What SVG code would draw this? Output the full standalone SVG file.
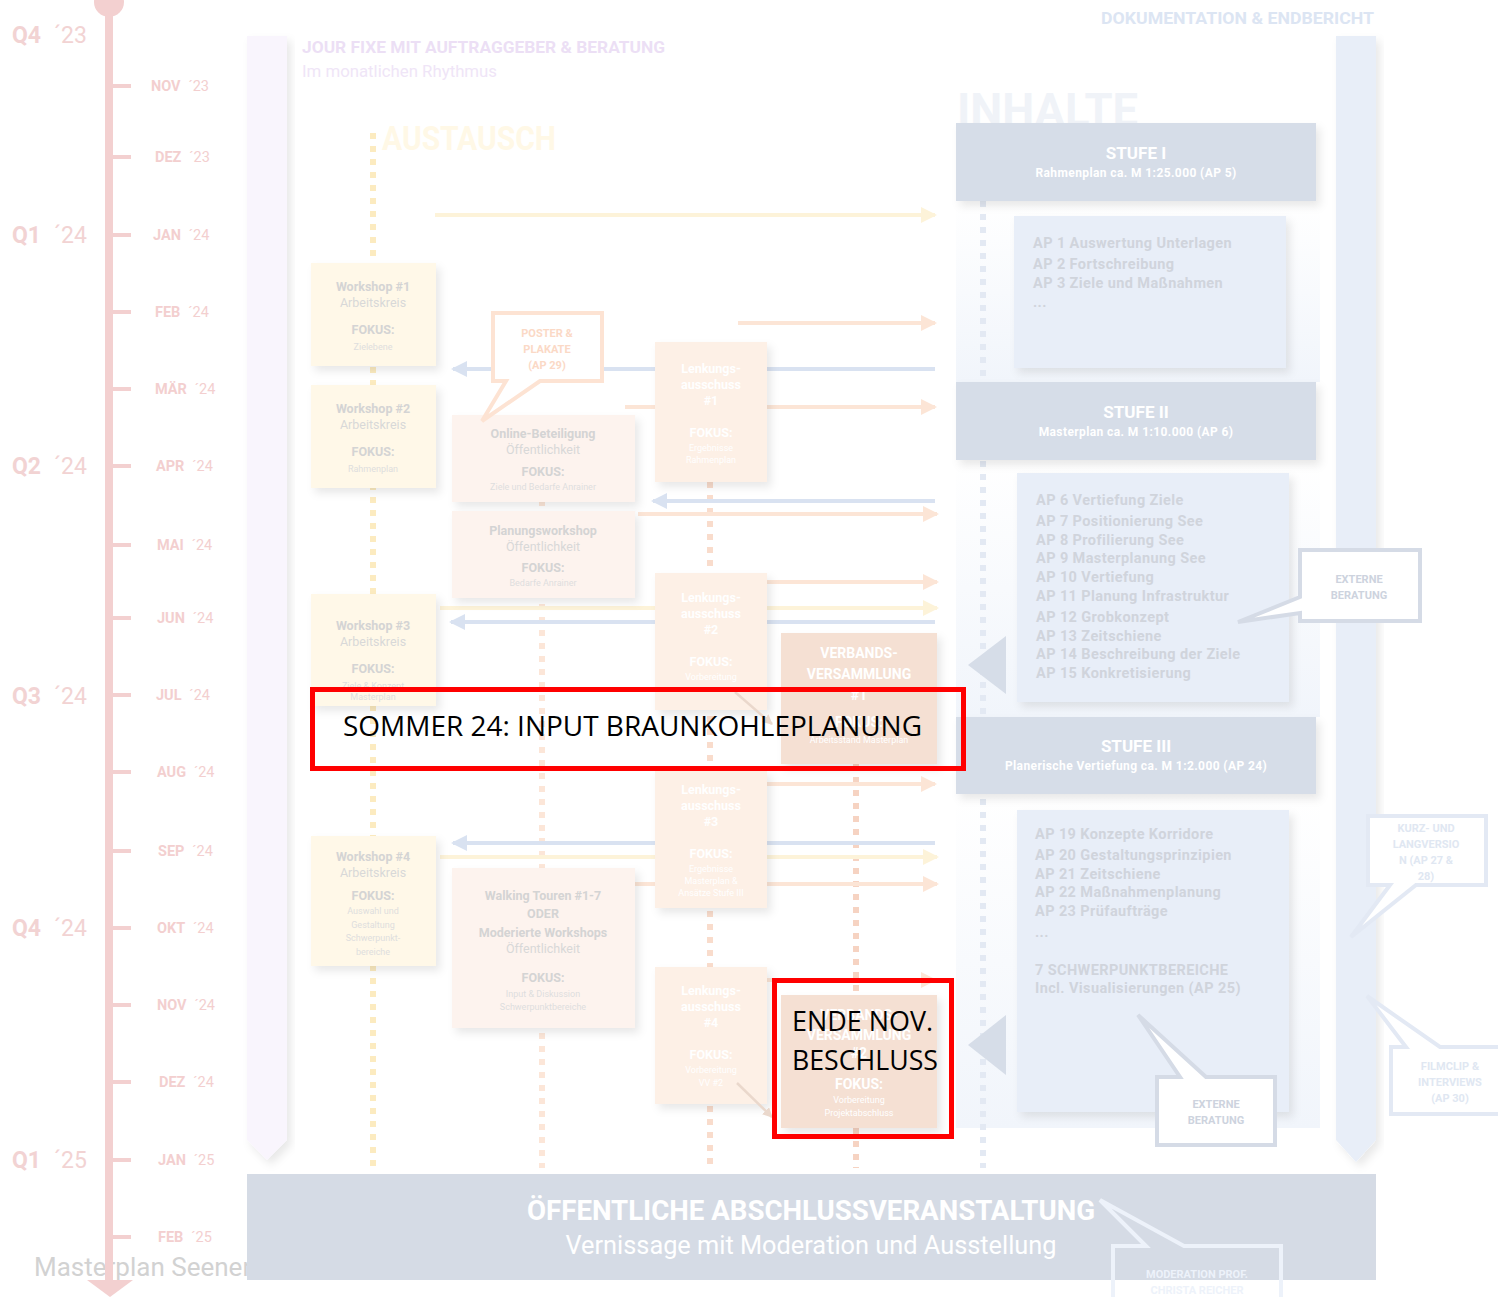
<svg xmlns="http://www.w3.org/2000/svg" width="1498" height="1297" viewBox="0 0 1498 1297">
<defs>
<style>
text{font-family:Roboto,"Liberation Sans",sans-serif}
.mon{font-size:14.5px;fill:#f3cfcf;word-spacing:4px}
.mon .b{font-weight:bold}
.q{font-size:23px;fill:#f2d3d3;word-spacing:7px}
.q .b{font-weight:bold}
.tick{fill:#f3d0d0}
.ws{fill:#fff8e8}
.pe{fill:#fdf3ee}
.lk{fill:#fdf0e6}
.vv{fill:#f5e0d3}
.st{fill:#d6dde8}
.ap{fill:#e8eef8}
.t1{font-size:12.5px;font-weight:bold;fill:#d4d4d4;text-anchor:middle}
.t2{font-size:12.5px;fill:#d8d8d8;text-anchor:middle}
.t3{font-size:9px;fill:#dedede;text-anchor:middle}
.w1{font-size:12.5px;font-weight:bold;fill:#ffffff;text-anchor:middle}
.w3{font-size:9px;fill:#ffffff;text-anchor:middle}
.v1{font-size:14px;font-weight:bold;fill:#ffffff;text-anchor:middle}
.apt{font-size:14.5px;font-weight:bold;fill:#d0d4dc;letter-spacing:0.4px}
.stt{font-size:17px;font-weight:bold;fill:#ffffff;text-anchor:middle}
.sts{font-size:12px;font-weight:bold;fill:#ffffff;text-anchor:middle;letter-spacing:0.4px}
.cb{font-size:11px;font-weight:bold;text-anchor:middle}
.dotY{stroke:#fcebc0;stroke-width:6;stroke-dasharray:6 7;fill:none}
.dotO{stroke:#fce6d8;stroke-width:6;stroke-dasharray:6 7;fill:none}
.dotL{stroke:#f9dccc;stroke-width:6;stroke-dasharray:6 7;fill:none}
.dotV{stroke:#f6d3c2;stroke-width:6;stroke-dasharray:6 7;fill:none}
.dotB{stroke:#e3e9f3;stroke-width:6;stroke-dasharray:6 7;fill:none}
.aY{stroke:#fdf3d9;stroke-width:4;fill:none}
.aO{stroke:#fce5d6;stroke-width:4;fill:none}
.aB{stroke:#d9e2f1;stroke-width:4;fill:none}
.red{fill:none;stroke:#ff0000;stroke-width:5}
.blk{font-family:"Open Sans","Liberation Sans",sans-serif;fill:#000000;font-size:28px}
</style>
<filter id="sh" x="-20%" y="-20%" width="140%" height="140%">
<feDropShadow dx="4" dy="5" stdDeviation="4" flood-color="#000" flood-opacity="0.09"/>
</filter>
<marker id="mY" markerUnits="userSpaceOnUse" markerWidth="18" markerHeight="18" refX="14" refY="8" orient="auto"><path d="M0 0 L16 8 L0 16 Z" fill="#fdf3d9"/></marker>
<marker id="mO" markerUnits="userSpaceOnUse" markerWidth="18" markerHeight="18" refX="14" refY="8" orient="auto"><path d="M0 0 L16 8 L0 16 Z" fill="#fce5d6"/></marker>
<marker id="mB" markerUnits="userSpaceOnUse" markerWidth="18" markerHeight="18" refX="14" refY="8" orient="auto"><path d="M0 0 L16 8 L0 16 Z" fill="#d9e2f1"/></marker>
<marker id="mG" markerUnits="userSpaceOnUse" markerWidth="12" markerHeight="12" refX="9" refY="5" orient="auto"><path d="M0 0 L10 5 L0 10 Z" fill="#ead8cc"/></marker>
<linearGradient id="gb" x1="0" y1="0" x2="0" y2="1"><stop offset="0" stop-color="#ffffff"/><stop offset="1" stop-color="#f1f5fb"/></linearGradient>
</defs>

<!-- background text -->
<text x="34" y="1276" font-size="26" fill="#d2d2d2">Masterplan Seenen</text>

<!-- timeline -->
<g id="timeline">
<rect x="105" y="0" width="8" height="1282" fill="#f3d0d0"/>
<circle cx="109" cy="2" r="15" fill="#f3d0d0"/>
<path d="M87 1280 L133 1280 L110 1297 Z" fill="#f3d0d0"/>
<g class="tick">
<rect x="113" y="84" width="18" height="4"/><rect x="113" y="155" width="18" height="4"/>
<rect x="113" y="233" width="18" height="4"/><rect x="113" y="310" width="18" height="4"/>
<rect x="113" y="387" width="18" height="4"/><rect x="113" y="464" width="18" height="4"/>
<rect x="113" y="543" width="18" height="4"/><rect x="113" y="616" width="18" height="4"/>
<rect x="113" y="693" width="18" height="4"/><rect x="113" y="770" width="18" height="4"/>
<rect x="113" y="849" width="18" height="4"/><rect x="113" y="926" width="18" height="4"/>
<rect x="113" y="1003" width="18" height="4"/><rect x="113" y="1080" width="18" height="4"/>
<rect x="113" y="1158" width="18" height="4"/><rect x="113" y="1235" width="18" height="4"/>
</g>
<text class="mon" x="151" y="91"><tspan class="b">NOV</tspan> ´23</text>
<text class="mon" x="155" y="162"><tspan class="b">DEZ</tspan> ´23</text>
<text class="mon" x="153" y="240"><tspan class="b">JAN</tspan> ´24</text>
<text class="mon" x="155" y="317"><tspan class="b">FEB</tspan> ´24</text>
<text class="mon" x="155" y="394"><tspan class="b">MÄR</tspan> ´24</text>
<text class="mon" x="156" y="471"><tspan class="b">APR</tspan> ´24</text>
<text class="mon" x="157" y="550"><tspan class="b">MAI</tspan> ´24</text>
<text class="mon" x="157" y="623"><tspan class="b">JUN</tspan> ´24</text>
<text class="mon" x="156" y="700"><tspan class="b">JUL</tspan> ´24</text>
<text class="mon" x="157" y="777"><tspan class="b">AUG</tspan> ´24</text>
<text class="mon" x="158" y="856"><tspan class="b">SEP</tspan> ´24</text>
<text class="mon" x="157" y="933"><tspan class="b">OKT</tspan> ´24</text>
<text class="mon" x="157" y="1010"><tspan class="b">NOV</tspan> ´24</text>
<text class="mon" x="159" y="1087"><tspan class="b">DEZ</tspan> ´24</text>
<text class="mon" x="158" y="1165"><tspan class="b">JAN</tspan> ´25</text>
<text class="mon" x="158" y="1242"><tspan class="b">FEB</tspan> ´25</text>
<text class="q" x="12" y="43"><tspan class="b">Q4</tspan> ´23</text>
<text class="q" x="12" y="243"><tspan class="b">Q1</tspan> ´24</text>
<text class="q" x="12" y="474"><tspan class="b">Q2</tspan> ´24</text>
<text class="q" x="12" y="704"><tspan class="b">Q3</tspan> ´24</text>
<text class="q" x="12" y="936"><tspan class="b">Q4</tspan> ´24</text>
<text class="q" x="12" y="1168"><tspan class="b">Q1</tspan> ´25</text>
</g>

<!-- columns -->
<g id="jourfixe">
<path d="M247 36 H287 V1140 L267 1160 L247 1140 Z" fill="#f9f5fd" filter="url(#sh)"/>
<text x="302" y="53" font-size="16" font-weight="bold" fill="#ecdff5" textLength="363" lengthAdjust="spacingAndGlyphs">JOUR FIXE MIT AUFTRAGGEBER &amp; BERATUNG</text>
<text x="302" y="77" font-size="16" fill="#efe5f7" textLength="195" lengthAdjust="spacingAndGlyphs">Im monatlichen Rhythmus</text>
</g>
<g id="dokumentation">
<path d="M1336 36 H1376 V1140 L1356 1162 L1336 1140 Z" fill="#e8eef8" filter="url(#sh)"/>
<text x="1101" y="24" font-size="17" font-weight="bold" fill="#dce5f3" textLength="273" lengthAdjust="spacingAndGlyphs">DOKUMENTATION &amp; ENDBERICHT</text>
</g>

<text x="382" y="150" font-size="34" font-weight="bold" fill="#fff8e6" textLength="174" lengthAdjust="spacingAndGlyphs">AUSTAUSCH</text>
<text x="957" y="126" font-size="46" font-weight="bold" fill="#f0f3f8" textLength="181" lengthAdjust="spacingAndGlyphs">INHALTE</text>

<!-- inhalte background -->
<rect x="956" y="201" width="364" height="181" fill="url(#gb)"/>
<rect x="956" y="460" width="364" height="257" fill="url(#gb)"/>
<rect x="956" y="794" width="364" height="334" fill="url(#gb)"/>

<!-- connectors -->
<g id="connectors">
<line class="dotY" x1="373" y1="133" x2="373" y2="1168"/>
<line class="dotO" x1="542" y1="500" x2="542" y2="1168"/>
<line class="dotL" x1="710" y1="482" x2="710" y2="1168"/>
<line class="dotV" x1="856" y1="764" x2="856" y2="1168"/>
<line class="dotB" x1="983" y1="201" x2="983" y2="1168"/>
<line class="aY" x1="435" y1="215" x2="935" y2="215" marker-end="url(#mY)"/>
<line class="aO" x1="738" y1="323" x2="935" y2="323" marker-end="url(#mO)"/>
<line class="aB" x1="935" y1="369" x2="453" y2="369" marker-end="url(#mB)"/>
<line class="aO" x1="625" y1="407" x2="935" y2="407" marker-end="url(#mO)"/>
<line class="aB" x1="935" y1="501" x2="653" y2="501" marker-end="url(#mB)"/>
<line class="aO" x1="638" y1="514" x2="937" y2="514" marker-end="url(#mO)"/>
<line class="aO" x1="765" y1="582" x2="937" y2="582" marker-end="url(#mO)"/>
<line class="aY" x1="440" y1="608" x2="937" y2="608" marker-end="url(#mY)"/>
<line class="aB" x1="935" y1="622" x2="451" y2="622" marker-end="url(#mB)"/>
<line class="aO" x1="765" y1="784" x2="935" y2="784" marker-end="url(#mO)"/>
<line class="aB" x1="935" y1="843" x2="453" y2="843" marker-end="url(#mB)"/>
<line class="aY" x1="440" y1="857" x2="937" y2="857" marker-end="url(#mY)"/>
<line class="aO" x1="635" y1="884" x2="937" y2="884" marker-end="url(#mO)"/>
<line class="aO" x1="765" y1="980" x2="935" y2="980" marker-end="url(#mO)"/>
</g>

<!-- workshops -->
<g id="ws1"><rect class="ws" x="311" y="263" width="125" height="103" filter="url(#sh)"/>
<text class="t1" x="373" y="291">Workshop #1</text><text class="t2" x="373" y="307">Arbeitskreis</text>
<text class="t1" x="373" y="334">FOKUS:</text><text class="t3" x="373" y="350">Zielebene</text></g>
<g id="ws2"><rect class="ws" x="311" y="385" width="125" height="103" filter="url(#sh)"/>
<text class="t1" x="373" y="413">Workshop #2</text><text class="t2" x="373" y="429">Arbeitskreis</text>
<text class="t1" x="373" y="456">FOKUS:</text><text class="t3" x="373" y="472">Rahmenplan</text></g>
<g id="ws3"><rect class="ws" x="311" y="594" width="125" height="112" filter="url(#sh)"/>
<text class="t1" x="373" y="630">Workshop #3</text><text class="t2" x="373" y="646">Arbeitskreis</text>
<text class="t1" x="373" y="673">FOKUS:</text><text class="t3" x="373" y="689">Ziele &amp; Konzept</text><text class="t3" x="373" y="700">Masterplan</text></g>
<g id="ws4"><rect class="ws" x="311" y="836" width="125" height="130" filter="url(#sh)"/>
<text class="t1" x="373" y="861">Workshop #4</text><text class="t2" x="373" y="877">Arbeitskreis</text>
<text class="t1" x="373" y="900">FOKUS:</text><text class="t3" x="373" y="914">Auswahl und</text>
<text class="t3" x="373" y="928">Gestaltung</text><text class="t3" x="373" y="941">Schwerpunkt-</text><text class="t3" x="373" y="955">bereiche</text></g>

<!-- public -->
<g id="online"><rect class="pe" x="452" y="415" width="183" height="87" filter="url(#sh)"/>
<text class="t1" x="543" y="438">Online-Beteiligung</text><text class="t2" x="543" y="454">Öffentlichkeit</text>
<text class="t1" x="543" y="476">FOKUS:</text><text class="t3" x="543" y="490">Ziele und Bedarfe Anrainer</text></g>
<g id="planungsws"><rect class="pe" x="452" y="511" width="183" height="87" filter="url(#sh)"/>
<text class="t1" x="543" y="535">Planungsworkshop</text><text class="t2" x="543" y="551">Öffentlichkeit</text>
<text class="t1" x="543" y="572">FOKUS:</text><text class="t3" x="543" y="586">Bedarfe Anrainer</text></g>
<g id="walking"><rect class="pe" x="452" y="868" width="183" height="160" filter="url(#sh)"/>
<text class="t1" x="543" y="900">Walking Touren #1-7</text><text class="t1" x="543" y="918">ODER</text>
<text class="t1" x="543" y="937">Moderierte Workshops</text><text class="t2" x="543" y="953">Öffentlichkeit</text>
<text class="t1" x="543" y="982">FOKUS:</text><text class="t3" x="543" y="997">Input &amp; Diskussion</text><text class="t3" x="543" y="1010">Schwerpunktbereiche</text></g>

<g id="poster"><path d="M493 313 H602 V381 H540 L482 421 L506 381 H493 Z" fill="#ffffff" stroke="#fde3d3" stroke-width="4"/>
<text class="cb" x="547" y="337" fill="#fbd9c6">POSTER &amp;</text><text class="cb" x="547" y="353" fill="#fbd9c6">PLAKATE</text><text class="cb" x="547" y="369" fill="#fbd9c6">(AP 29)</text></g>

<!-- lenkungsausschuss -->
<g id="lk1"><rect class="lk" x="655" y="342" width="112" height="140" filter="url(#sh)"/>
<text class="w1" x="711" y="373">Lenkungs-</text><text class="w1" x="711" y="389">ausschuss</text><text class="w1" x="711" y="405">#1</text>
<text class="w1" x="711" y="437">FOKUS:</text><text class="w3" x="711" y="451">Ergebnisse</text><text class="w3" x="711" y="463">Rahmenplan</text></g>
<g id="lk2"><rect class="lk" x="655" y="573" width="112" height="137" filter="url(#sh)"/>
<text class="w1" x="711" y="602">Lenkungs-</text><text class="w1" x="711" y="618">ausschuss</text><text class="w1" x="711" y="634">#2</text>
<text class="w1" x="711" y="666">FOKUS:</text><text class="w3" x="711" y="680">Vorbereitung</text></g>
<g id="lk3"><rect class="lk" x="655" y="770" width="112" height="138" filter="url(#sh)"/>
<text class="w1" x="711" y="794">Lenkungs-</text><text class="w1" x="711" y="810">ausschuss</text><text class="w1" x="711" y="826">#3</text>
<text class="w1" x="711" y="858">FOKUS:</text><text class="w3" x="711" y="872">Ergebnisse</text><text class="w3" x="711" y="884">Masterplan &amp;</text><text class="w3" x="711" y="896">Ansätze Stufe III</text></g>
<g id="lk4"><rect class="lk" x="655" y="967" width="112" height="137" filter="url(#sh)"/>
<text class="w1" x="711" y="995">Lenkungs-</text><text class="w1" x="711" y="1011">ausschuss</text><text class="w1" x="711" y="1027">#4</text>
<text class="w1" x="711" y="1059">FOKUS:</text><text class="w3" x="711" y="1073">Vorbereitung</text><text class="w3" x="711" y="1086">VV #2</text></g>

<g id="diag">
<line x1="735" y1="692" x2="772" y2="724" stroke="#ead8cc" stroke-width="2.5" marker-end="url(#mG)"/>
<line x1="737" y1="1083" x2="772" y2="1117" stroke="#ead8cc" stroke-width="2.5" marker-end="url(#mG)"/>
</g>

<!-- verbandsversammlung -->
<g id="vv1"><rect class="vv" x="781" y="633" width="156" height="131" filter="url(#sh)"/>
<text class="v1" x="859" y="658">VERBANDS-</text><text class="v1" x="859" y="679">VERSAMMLUNG</text><text class="v1" x="859" y="700">#1</text>
<text class="v1" x="859" y="727">FOKUS:</text><text class="w3" x="859" y="743">Arbeitsstand Masterplan</text></g>
<g id="vv2"><rect class="vv" x="781" y="995" width="156" height="133" filter="url(#sh)"/>
<text class="v1" x="859" y="1020">VERBANDS-</text><text class="v1" x="859" y="1040">VERSAMMLUNG</text><text class="v1" x="859" y="1058">#2</text>
<text class="v1" x="859" y="1089">FOKUS:</text><text class="w3" x="859" y="1103">Vorbereitung</text><text class="w3" x="859" y="1116">Projektabschluss</text></g>

<!-- stufen -->
<g id="stufe1"><rect class="st" x="956" y="123" width="360" height="78" filter="url(#sh)"/>
<text class="stt" x="1136" y="159">STUFE I</text><text class="sts" x="1136" y="177">Rahmenplan ca. M 1:25.000 (AP 5)</text></g>
<g id="ap1"><rect class="ap" x="1014" y="216" width="272" height="152" filter="url(#sh)"/>
<text class="apt" x="1033" y="248">AP 1 Auswertung Unterlagen</text>
<text class="apt" x="1033" y="269">AP 2 Fortschreibung</text>
<text class="apt" x="1033" y="288">AP 3 Ziele und Maßnahmen</text>
<text class="apt" x="1033" y="307">...</text></g>
<g id="stufe2"><rect class="st" x="956" y="382" width="360" height="78" filter="url(#sh)"/>
<text class="stt" x="1136" y="418">STUFE II</text><text class="sts" x="1136" y="436">Masterplan ca. M 1:10.000 (AP 6)</text></g>
<g id="ap2"><rect class="ap" x="1017" y="473" width="272" height="229" filter="url(#sh)"/>
<text class="apt" x="1036" y="505">AP 6 Vertiefung Ziele</text>
<text class="apt" x="1036" y="526">AP 7 Positionierung See</text>
<text class="apt" x="1036" y="545">AP 8 Profilierung See</text>
<text class="apt" x="1036" y="563">AP 9 Masterplanung See</text>
<text class="apt" x="1036" y="582">AP 10 Vertiefung</text>
<text class="apt" x="1036" y="601">AP 11 Planung Infrastruktur</text>
<text class="apt" x="1036" y="622">AP 12 Grobkonzept</text>
<text class="apt" x="1036" y="641">AP 13 Zeitschiene</text>
<text class="apt" x="1036" y="659">AP 14 Beschreibung der Ziele</text>
<text class="apt" x="1036" y="678">AP 15 Konkretisierung</text></g>
<path d="M1006 636 L968 665 L1006 694 Z" fill="#d6dde8"/>
<g id="stufe3"><rect class="st" x="956" y="717" width="360" height="77" filter="url(#sh)"/>
<text class="stt" x="1136" y="752">STUFE III</text><text class="sts" x="1136" y="770">Planerische Vertiefung ca. M 1:2.000 (AP 24)</text></g>
<g id="ap3"><rect class="ap" x="1017" y="810" width="272" height="302" filter="url(#sh)"/>
<text class="apt" x="1035" y="839">AP 19 Konzepte Korridore</text>
<text class="apt" x="1035" y="860">AP 20 Gestaltungsprinzipien</text>
<text class="apt" x="1035" y="879">AP 21 Zeitschiene</text>
<text class="apt" x="1035" y="897">AP 22 Maßnahmenplanung</text>
<text class="apt" x="1035" y="916">AP 23 Prüfaufträge</text>
<text class="apt" x="1035" y="937">...</text>
<text class="apt" x="1035" y="975">7 SCHWERPUNKTBEREICHE</text>
<text class="apt" x="1035" y="993">Incl. Visualisierungen (AP 25)</text></g>
<path d="M1006 1015 L968 1045 L1006 1075 Z" fill="#d6dde8"/>

<!-- callouts -->
<g id="extern1"><path d="M1300 550 H1420 V621 H1300 V613 L1238 622 L1300 597 Z" fill="#ffffff" stroke="#d5dbe6" stroke-width="4"/>
<text class="cb" x="1359" y="583" fill="#cdd3de">EXTERNE</text><text class="cb" x="1359" y="599" fill="#cdd3de">BERATUNG</text></g>
<g id="extern2"><path d="M1157 1077 H1180 L1138 1015 L1206 1077 H1275 V1145 H1157 Z" fill="#ffffff" stroke="#d5dbe6" stroke-width="4"/>
<text class="cb" x="1216" y="1108" fill="#cdd3de">EXTERNE</text><text class="cb" x="1216" y="1124" fill="#cdd3de">BERATUNG</text></g>
<g id="kurz"><path d="M1368 816 H1486 V885 H1416 L1351 937 L1390 885 H1368 Z" fill="#ffffff" stroke="#e3e9f4" stroke-width="4"/>
<text class="cb" x="1426" y="832" fill="#e0e7f2">KURZ- UND</text><text class="cb" x="1426" y="848" fill="#e0e7f2">LANGVERSIO</text>
<text class="cb" x="1426" y="864" fill="#e0e7f2">N (AP 27 &amp;</text><text class="cb" x="1426" y="880" fill="#e0e7f2">28)</text></g>
<g id="film"><path d="M1391 1047 H1406 L1367 996 L1440 1047 H1510 V1114 H1391 Z" fill="#ffffff" stroke="#e3e9f4" stroke-width="4"/>
<text class="cb" x="1450" y="1070" fill="#e0e7f2">FILMCLIP &amp;</text><text class="cb" x="1450" y="1086" fill="#e0e7f2">INTERVIEWS</text><text class="cb" x="1450" y="1102" fill="#e0e7f2">(AP 30)</text></g>

<!-- abschluss -->
<g id="abschluss"><rect x="247" y="1174" width="1129" height="106" fill="#d5dbe5"/>
<text x="811" y="1220" font-size="28" font-weight="bold" fill="#ffffff" text-anchor="middle" textLength="568" lengthAdjust="spacingAndGlyphs">ÖFFENTLICHE ABSCHLUSSVERANSTALTUNG</text>
<text x="811" y="1254" font-size="26" fill="#ffffff" text-anchor="middle" textLength="491" lengthAdjust="spacingAndGlyphs">Vernissage mit Moderation und Ausstellung</text></g>
<g id="moderation"><path d="M1113 1246 H1146 L1100 1200 L1184 1246 H1281 V1310 H1113 Z" fill="none" stroke="#edf2fa" stroke-width="4"/>
<text class="cb" x="1197" y="1278" fill="#edf2fa">MODERATION PROF.</text><text class="cb" x="1197" y="1294" fill="#edf2fa">CHRISTA REICHER</text></g>

<!-- red annotations -->
<g id="note1"><rect class="red" x="312.5" y="689.5" width="651" height="79"/>
<text class="blk" x="343" y="736" textLength="579" lengthAdjust="spacingAndGlyphs">SOMMER 24: INPUT BRAUNKOHLEPLANUNG</text></g>
<g id="note2"><rect class="red" x="774.5" y="980.5" width="177" height="156"/>
<text class="blk" x="792" y="1031" font-size="29" textLength="141" lengthAdjust="spacingAndGlyphs">ENDE NOV.</text>
<text class="blk" x="792" y="1070" font-size="29" textLength="146" lengthAdjust="spacingAndGlyphs">BESCHLUSS</text></g>
</svg>
